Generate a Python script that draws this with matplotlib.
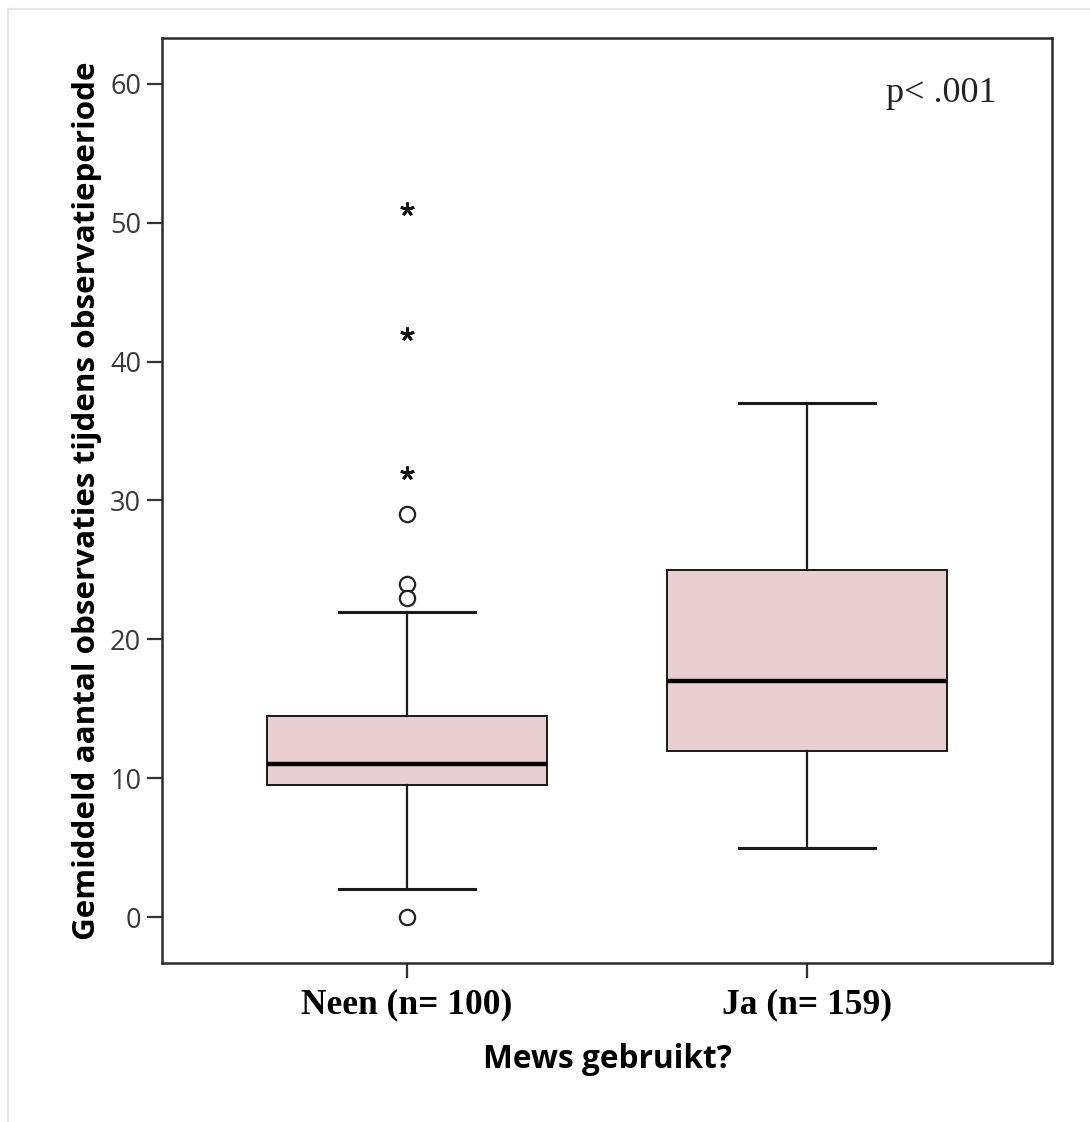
import matplotlib
matplotlib.use("Agg")
import matplotlib.pyplot as plt
from matplotlib.lines import Line2D

# ---- data ----
categories = ["Neen (n= 100)", "Ja (n= 159)"]
whislo = [2, 5]
q1 = [9.5, 12]
med = [11, 17]
q3 = [14.5, 25]
whishi = [22, 37]
outliers_circle = [[29, 24, 23, 0], []]
outliers_star = [[51, 42, 32], []]
yticks = [0, 10, 20, 30, 40, 50, 60]

fig = plt.figure(figsize=(10.9, 11.22), dpi=100)
ax = fig.add_axes([162/1090, 1 - 963/1122, (1052-162)/1090, (963-38)/1122])

stats = []
for i, c in enumerate(categories):
    stats.append(dict(label=c, whislo=whislo[i], q1=q1[i], med=med[i],
                      q3=q3[i], whishi=whishi[i], fliers=[]))

ax.bxp(stats, positions=[1, 2], widths=0.7, patch_artist=True,
       showfliers=False,
       boxprops=dict(facecolor="#e9cfcf", edgecolor="#1a1a1a", linewidth=1.4),
       medianprops=dict(color="black", linewidth=3.2),
       whiskerprops=dict(color="#1a1a1a", linewidth=1.6),
       capprops=dict(color="#1a1a1a", linewidth=2.2),
       capwidths=0.34)

for i in range(len(categories)):
    if outliers_circle[i]:
        ax.plot([i + 1] * len(outliers_circle[i]), outliers_circle[i], ls="none",
                marker="o", markersize=11, markerfacecolor="white",
                markeredgecolor="#222222", markeredgewidth=1.6)
    if outliers_star[i]:
        ax.plot([i + 1] * len(outliers_star[i]), outliers_star[i], ls="none",
                marker=(5, 2, 0), markersize=10, color="#111111",
                markeredgewidth=2.0)

ax.set_xlim(0.3875, 2.6125)
ax.set_ylim(-3.3, 63.3)
ax.set_yticks(yticks)
ax.set_yticklabels([str(t) for t in yticks], family="Open Sans", fontsize=19.5,
                   color="#3a3a3a")
ax.set_xticks([1, 2])
ax.set_xticklabels(categories, family="Liberation Serif", fontweight="bold",
                   fontsize=25.5)
ax.tick_params(axis="both", direction="out", length=11, width=1.6,
               color="#333333")
ax.tick_params(axis="y", pad=4)
ax.tick_params(axis="x", pad=7)
for s in ax.spines.values():
    s.set_linewidth(1.8)
    s.set_color("#2a2a2a")

ax.set_ylabel("Gemiddeld aantal observaties tijdens observatieperiode",
              family="Open Sans", fontweight="bold", fontsize=22.6, labelpad=6)
ax.set_xlabel("Mews gebruikt?", family="Open Sans", fontweight="bold",
              fontsize=22.8, labelpad=16)

ax.text(0.875, 0.9405, "p< .001", transform=ax.transAxes, ha="center", va="center",
        family="Liberation Serif", fontsize=26, color="#222222")

# faint page border
fig.add_artist(Line2D([8/1090, 8/1090], [0, 1 - 9/1122], transform=fig.transFigure,
                      color="#e6e6e6", linewidth=1.5))
fig.add_artist(Line2D([8/1090, 1], [1 - 9/1122, 1 - 9/1122], transform=fig.transFigure,
                      color="#e6e6e6", linewidth=1.5))

fig.savefig("out.png", dpi=100)
